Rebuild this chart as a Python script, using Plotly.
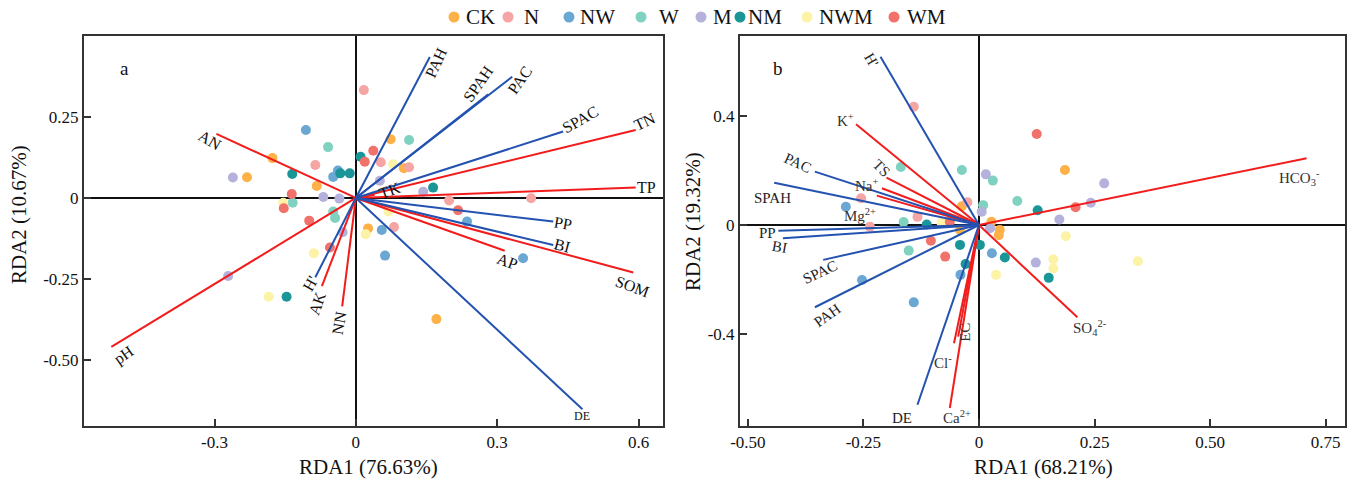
import plotly.graph_objects as go

# ---------------- DATA ----------------
groups = ["CK", "N", "NW", "W", "M", "NM", "NWM", "WM"]
group_colors = ["#FDB147", "#F6A5A5", "#6AA8D3", "#80D2C0", "#B4B1DC", "#1A9699", "#FCF3A6", "#F0726A"]

# Panel a sample scores (RDA1, RDA2)
a_x = {
    "CK": [-0.177, -0.231, -0.083, 0.074, 0.102, 0.026, 0.171],
    "N": [-0.086, 0.017, 0.053, 0.113, 0.198, 0.372, 0.081],
    "NW": [-0.106, -0.038, -0.048, 0.236, 0.055, 0.062, 0.355],
    "W": [-0.059, 0.113, -0.134, -0.048, -0.044],
    "M": [-0.261, -0.069, -0.035, 0.051, 0.143, -0.028, -0.271],
    "NM": [-0.135, -0.033, -0.013, 0.010, 0.164, -0.147],
    "NWM": [-0.154, 0.079, 0.069, 0.021, -0.089, -0.185],
    "WM": [-0.136, -0.153, -0.099, -0.055, 0.037, 0.019, 0.217],
}
a_y = {
    "CK": [0.123, 0.064, 0.037, 0.181, 0.092, -0.094, -0.374],
    "N": [0.102, 0.333, 0.110, 0.095, -0.008, -0.001, -0.090],
    "NW": [0.210, 0.085, 0.065, -0.073, -0.099, -0.178, -0.186],
    "W": [0.157, 0.179, -0.015, -0.042, -0.062],
    "M": [0.063, 0.003, -0.002, 0.053, 0.019, -0.106, -0.241],
    "NM": [0.074, 0.076, 0.076, 0.127, 0.032, -0.305],
    "NWM": [-0.015, 0.104, -0.042, -0.112, -0.171, -0.305],
    "WM": [0.012, -0.032, -0.070, -0.153, 0.146, 0.112, -0.038],
}

# Panel b sample scores
b_x = {
    "CK": [0.186, -0.037, 0.027, 0.045, 0.043, -0.041],
    "N": [-0.141, -0.025, -0.255, -0.133, -0.236],
    "NW": [-0.288, 0.028, -0.040, -0.253, -0.141],
    "W": [-0.169, -0.037, 0.030, 0.083, 0.009, -0.163, -0.152],
    "M": [0.015, 0.271, 0.242, 0.174, 0.006, 0.024, 0.123],
    "NM": [0.127, -0.113, -0.041, 0.002, 0.056, -0.029, 0.151],
    "NWM": [-0.081, 0.188, 0.161, 0.161, 0.037, 0.344],
    "WM": [0.125, 0.209, -0.063, -0.104, -0.073],
}
b_y = {
    "CK": [0.202, 0.069, 0.012, -0.018, -0.037, -0.018],
    "N": [0.434, 0.084, 0.098, 0.030, -0.006],
    "NW": [0.067, -0.104, -0.183, -0.202, -0.284],
    "W": [0.213, 0.202, 0.163, 0.088, 0.073, 0.011, -0.094],
    "M": [0.186, 0.153, 0.082, 0.020, 0.049, -0.012, -0.138],
    "NM": [0.054, 0.002, -0.073, -0.073, -0.119, -0.143, -0.194],
    "NWM": [0.008, -0.041, -0.126, -0.160, -0.183, -0.133],
    "WM": [0.334, 0.065, 0.012, -0.058, -0.116],
}

# Panel a vectors
a_env_names = ["AN", "pH", "AK", "NN", "TN", "TP", "TK", "AP", "SOM"]
a_env_x = [-0.296, -0.519, -0.072, -0.029, 0.594, 0.594, 0.040, 0.316, 0.589]
a_env_y = [0.198, -0.460, -0.272, -0.335, 0.210, 0.032, 0.010, -0.163, -0.230]
a_bio_names = ["PAH", "SPAH", "PAC", "SPAC", "PP", "BI", "DE", "H'"]
a_bio_x = [0.157, 0.281, 0.332, 0.440, 0.419, 0.419, 0.481, -0.086]
a_bio_y = [0.435, 0.320, 0.374, 0.205, -0.073, -0.145, -0.652, -0.245]

# Panel b vectors
b_env_names = ["K<sup>+</sup>", "TS", "Na<sup>+</sup>", "Mg<sup>2+</sup>", "HCO<sub>3</sub><sup>-</sup>",
               "SO<sub>4</sub><sup>2-</sup>", "Cl<sup>-</sup>", "EC", "Ca<sup>2+</sup>"]
b_env_x = [-0.266, -0.200, -0.210, -0.221, 0.709, 0.213, -0.054, -0.045, -0.063]
b_env_y = [0.370, 0.174, 0.135, 0.108, 0.245, -0.339, -0.434, -0.410, -0.672]
b_bio_names = ["H'", "PAC", "SPAH", "PP", "BI", "SPAC", "PAH", "DE"]
b_bio_x = [-0.213, -0.355, -0.443, -0.434, -0.424, -0.337, -0.355, -0.133]
b_bio_y = [0.618, 0.196, 0.155, -0.021, -0.049, -0.128, -0.302, -0.660]

a_xticks = [-0.3, 0, 0.3, 0.6]
a_xticklabels = ["-0.3", "0", "0.3", "0.6"]
a_yticks = [0.25, 0, -0.25, -0.5]
a_yticklabels = ["0.25", "0", "-0.25", "-0.50"]
b_xticks = [-0.5, -0.25, 0, 0.25, 0.5, 0.75]
b_xticklabels = ["-0.50", "-0.25", "0", "0.25", "0.50", "0.75"]
b_yticks = [0.4, 0, -0.4]
b_yticklabels = ["0.4", "0", "-0.4"]

# ---------------- STYLE ----------------
W, H = 1363, 486
# label offsets in px: (dx, dy downward, angle)
a_env_lab = {"AN": (-6, 7, 30), "pH": (13, 8, -35), "AK": (-5, 17, -70), "NN": (-3, 16, -80),
             "TN": (9, -8, -25), "TP": (11, 0, 0), "TK": (15, -4, -20), "AP": (3, 11, 20),
             "SOM": (-1, 14, 20)}
a_bio_lab = {"PAH": (6, 5, -65), "SPAH": (-10, -11, -55), "PAC": (8, 3, -55), "SPAC": (17, -12, -30),
             "PP": (10, 2, 10), "BI": (9, 1, 15), "DE": (0, 7, 0), "H'": (-5, 6, -60)}
b_env_lab = [(-11, -4, 0), (-5, -10, 45), (-15, -3, 0), (-17, 19, 0), (-7, 20, 0),
             (13, 11, 0), (-11, 19, 0), (7, -4, -90), (7, 9, 0)]
b_bio_lab = [(-9, 3, 60), (-17, -9, 25), (-2, 15, 0), (-11, 2, 0), (-3, 9, 10),
             (-3, 12, -25), (13, 8, -35), (-15, 13, 0)]
# custom legend layout (px): marker x, text left x
legend_marker_px = [454, 508, 569, 641, 701, 740, 807, 894]
legend_text_px = [464, 522, 578, 657, 711, 746, 817, 905]
legend_y_px = 17

RED = "#F21C1C"
BLUE = "#2352B0"
FONT = "Liberation Serif"

fig = go.Figure()


def add_vectors(names, xs, ys, color, xa, ya):
    for n, x, y in zip(names, xs, ys):
        fig.add_trace(go.Scatter(x=[0, x], y=[0, y], mode="lines", line=dict(color=color, width=2),
                                 showlegend=False, hoverinfo="skip", xaxis=xa, yaxis=ya))


# sample points
for g, c in zip(groups, group_colors):
    fig.add_trace(go.Scatter(x=a_x[g], y=a_y[g], mode="markers", name=g,
                             marker=dict(color=c, size=10, line=dict(width=0)),
                             xaxis="x", yaxis="y", showlegend=False))
    fig.add_trace(go.Scatter(x=b_x[g], y=b_y[g], mode="markers", name=g,
                             showlegend=False, marker=dict(color=c, size=10, line=dict(width=0)),
                             xaxis="x2", yaxis="y2"))

add_vectors(a_env_names, a_env_x, a_env_y, RED, "x", "y")
add_vectors(a_bio_names, a_bio_x, a_bio_y, BLUE, "x", "y")
add_vectors(b_env_names, b_env_x, b_env_y, RED, "x2", "y2")
add_vectors(b_bio_names, b_bio_x, b_bio_y, BLUE, "x2", "y2")

annotations = []
shapes = []


def lab(text, x, y, off, xref, yref, size=15, color="#111"):
    dx, dy, ang = off
    annotations.append(dict(text=text, x=x, y=y, xref=xref, yref=yref, showarrow=False,
                            xanchor="center", yanchor="middle",
                            xshift=dx, yshift=-dy, textangle=ang,
                            font=dict(family=FONT, size=size, color=color)))


for n, x, y in zip(a_env_names, a_env_x, a_env_y):
    lab(n, x, y, a_env_lab[n], "x", "y", size=16)
for n, x, y in zip(a_bio_names, a_bio_x, a_bio_y):
    lab(n, x, y, a_bio_lab[n], "x", "y", size=12 if n == "DE" else 16)
for n, x, y, o in zip(b_env_names, b_env_x, b_env_y, b_env_lab):
    lab(n, x, y, o, "x2", "y2", size=15, color="#333")
for n, x, y, o in zip(b_bio_names, b_bio_x, b_bio_y, b_bio_lab):
    lab(n, x, y, o, "x2", "y2", size=15, color="#222")


def paper_text(txt, px, py, size, ang=0, xanchor="center"):
    annotations.append(dict(text=txt, x=px / W, y=1 - py / H, xref="paper", yref="paper",
                            showarrow=False, xanchor=xanchor, yanchor="middle", textangle=ang,
                            font=dict(family=FONT, size=size, color="#111")))


paper_text("a", 124, 68, 19)
paper_text("b", 778, 68, 19)
paper_text("RDA1 (76.63%)", 368, 467, 21)
paper_text("RDA1 (68.21%)", 1043, 467, 21)
paper_text("RDA2 (10.67%)", 19, 215, 21, -90)
paper_text("RDA2 (19.32%)", 693, 222, 21, -90)

# custom legend
r = 5.5
for g, c, mx, tx in zip(groups, group_colors, legend_marker_px, legend_text_px):
    shapes.append(dict(type="circle", xref="paper", yref="paper",
                       x0=(mx - r) / W, x1=(mx + r) / W,
                       y0=1 - (legend_y_px + r) / H, y1=1 - (legend_y_px - r) / H,
                       fillcolor=c, line=dict(width=0)))
    paper_text(g, tx, legend_y_px, 21, xanchor="left")

axis_common = dict(showgrid=False, zeroline=True, zerolinecolor="#111", zerolinewidth=2,
                   showline=True, linecolor="#333", linewidth=2, mirror=True,
                   ticks="inside", ticklen=7, tickwidth=1.5, tickcolor="#333",
                   tickfont=dict(family=FONT, size=17, color="#111"), automargin=False)

fig.update_layout(
    width=W, height=H,
    margin=dict(l=0, r=0, t=0, b=0),
    plot_bgcolor="white", paper_bgcolor="white",
    xaxis=dict(domain=[84 / W, 663 / W], range=[-0.577, 0.652], tickvals=a_xticks,
               ticktext=a_xticklabels, anchor="y", **axis_common),
    yaxis=dict(domain=[1 - 426 / H, 1 - 36 / H], range=[-0.704, 0.5], tickvals=a_yticks,
               ticktext=a_yticklabels, anchor="x", **axis_common),
    xaxis2=dict(domain=[740 / W, 1345 / W], range=[-0.517, 0.792], tickvals=b_xticks,
                ticktext=b_xticklabels, anchor="y2", **axis_common),
    yaxis2=dict(domain=[1 - 426 / H, 1 - 36 / H], range=[-0.738, 0.694], tickvals=b_yticks,
                ticktext=b_yticklabels, anchor="x2", **axis_common),
    annotations=annotations,
    shapes=shapes,
    showlegend=False,
)

fig.write_html("out.html", config={"displayModeBar": False},
               post_script="document.body.style.margin='0';document.body.style.padding='0';"
                           "document.documentElement.style.overflow='hidden';")
